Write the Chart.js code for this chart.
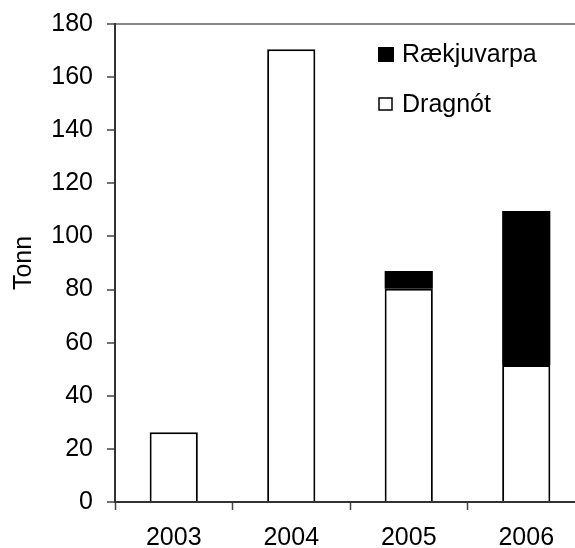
<!DOCTYPE html>
<html>
<head>
<meta charset="utf-8">
<script src="https://cdn.jsdelivr.net/npm/chart.js@4.4.1/dist/chart.umd.min.js"></script>
<style>
    html, body { margin: 0; padding: 0; background: #fff; overflow: hidden; }
    .wrap { position: relative; width: 600px; height: 548px; }
</style>
</head>
<body>
<div class="wrap"><canvas id="chart" width="600" height="548"></canvas></div>
<script>
const years = ['2003', '2004', '2005', '2006']
const dragnot = [26.3, 170.5, 80.3, 51.6]
const raekjuvarpa = [0, 0, 6.7, 58]
const yTicks = [0, 20, 40, 60, 80, 100, 120, 140, 160, 180]

const font = { family: 'Arial, "Liberation Sans", sans-serif', size: 25 }

// legend drawn inside the plot, top right
const insideLegend = {
    id: 'insideLegend',
    afterDraw(chart) {
        const ctx = chart.ctx
        const area = chart.chartArea
        const x = area.left + 263
        ctx.save()
        ctx.font = `${font.size}px ${font.family}`
        ctx.fillStyle = '#000'
        ctx.textBaseline = 'alphabetic'
        const items = chart.data.datasets.slice().reverse()
        items.forEach((ds, i) => {
            const y = area.top + 23 + i * 50
            if (ds.backgroundColor === '#000') {
                ctx.fillRect(x, y, 16, 15)
            } else {
                ctx.fillStyle = '#fff'
                ctx.fillRect(x + 1, y + 1, 13, 13)
                ctx.strokeStyle = '#000'
                ctx.lineWidth = 1.5
                ctx.strokeRect(x + 1, y + 1, 13, 12)
            }
            ctx.fillStyle = '#000'
            ctx.fillText(ds.label, x + 24, y + 15)
        })
        ctx.restore()
    }
}

new Chart(document.getElementById('chart'), {
    type: 'bar',
    data: {
        labels: years,
        datasets: [{
            label: 'Dragnót',
            data: dragnot,
            backgroundColor: '#fff',
            borderColor: '#000',
            borderWidth: 2,
            barPercentage: 0.41,
            categoryPercentage: 1
        }, {
            label: 'Rækjuvarpa',
            data: raekjuvarpa,
            backgroundColor: '#000',
            borderColor: '#000',
            borderWidth: 0,
            barPercentage: 0.41,
            categoryPercentage: 1
        }]
    },
    options: {
        responsive: false,
        animation: false,
        layout: { padding: { top: 24, right: 15, left: 0, bottom: 0 } },
        plugins: {
            legend: { display: false },
            tooltip: { enabled: false }
        },
        scales: {
            x: {
                stacked: true,
                offset: true,
                grid: {
                    display: true,
                    offset: true,
                    drawOnChartArea: false,
                    tickLength: 8,
                    tickColor: '#444',
                    tickWidth: 1.5
                },
                border: { color: '#333', width: 2 },
                ticks: { color: '#000', font: font, padding: 13, maxRotation: 0 },
                afterFit(scale) { scale.height = 46 }
            },
            y: {
                stacked: true,
                min: 0,
                max: 180,
                afterBuildTicks(scale) { scale.ticks = yTicks.map(v => ({ value: v })) },
                grid: {
                    color: c => c.tick && c.tick.value === 180 ? '#888' : 'rgba(0,0,0,0)',
                    lineWidth: 2,
                    tickLength: 8,
                    tickColor: '#444',
                    tickWidth: 1.5
                },
                border: { color: '#333', width: 2 },
                ticks: { color: '#000', font: { ...font, lineHeight: 0.8 }, padding: 14 },
                title: {
                    display: true,
                    text: 'Tonn',
                    color: '#000',
                    font: font,
                    padding: { top: 9, bottom: 0 }
                },
                afterFit(scale) { scale.width = 115 }
            }
        }
    },
    plugins: [insideLegend]
})
</script>
</body>
</html>
